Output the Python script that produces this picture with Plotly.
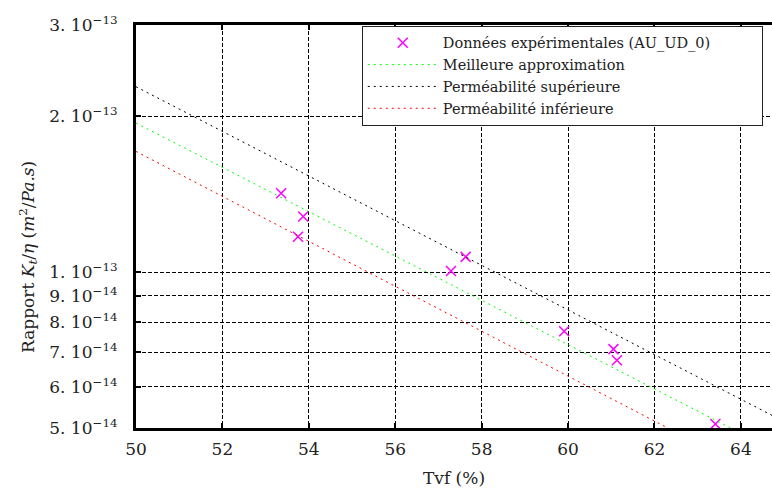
import math
import plotly.graph_objects as go

# Data
tvf_pts = [53.36, 53.87, 53.75, 57.29, 57.63, 59.91, 61.05, 61.13, 63.41]
ratio_pts = [1.42e-13, 1.28e-13, 1.17e-13, 1.005e-13, 1.07e-13, 7.69e-14, 7.1e-14, 6.76e-14, 5.09e-14]

line_x = [50.0, 64.72]
best_fit = [1.94e-13, 4.55e-14]
upper_perm = [2.28e-13, 5.29e-14]
lower_perm = [1.71e-13, 3.93e-14]

x_ticks = [50, 52, 54, 56, 58, 60, 62, 64]
y_ticks = [5e-14, 6e-14, 7e-14, 8e-14, 9e-14, 1e-13, 2e-13, 3e-13]
y_ticktext = ["5. 10<sup>−14</sup>", "6. 10<sup>−14</sup>", "7. 10<sup>−14</sup>",
              "8. 10<sup>−14</sup>", "9. 10<sup>−14</sup>", "1. 10<sup>−13</sup>",
              "2. 10<sup>−13</sup>", "3. 10<sup>−13</sup>"]

FONT = "DejaVu Serif"
PAD = "\u00a0" * 10

fig = go.Figure()
fig.add_trace(go.Scatter(x=tvf_pts, y=ratio_pts, mode="markers",
                         name="Données expérimentales (AU_UD_0)" + PAD,
                         marker=dict(symbol="x-thin", size=10, color="#ff00ff",
                                     line=dict(width=1.5, color="#ff00ff"))))
fig.add_trace(go.Scatter(x=line_x, y=best_fit, mode="lines", name="Meilleure approximation",
                         line=dict(color="#00ff00", width=1, dash="2px,4px")))
fig.add_trace(go.Scatter(x=line_x, y=upper_perm, mode="lines", name="Perméabilité supérieure",
                         line=dict(color="#000000", width=1, dash="2px,4px")))
fig.add_trace(go.Scatter(x=line_x, y=lower_perm, mode="lines", name="Perméabilité inférieure",
                         line=dict(color="#ff0000", width=1, dash="2px,4px")))

fig.update_layout(
    width=772, height=488,
    margin=dict(l=136, r=0, t=25, b=60, autoexpand=False),
    plot_bgcolor="white", paper_bgcolor="white",
    font=dict(family=FONT, size=15, color="#222"),
    showlegend=True,
    legend=dict(x=0.355, y=0.998, xanchor="left", yanchor="top",
                bgcolor="white", bordercolor="#222", borderwidth=1,
                font=dict(family=FONT, size=14.5), itemwidth=70,
                tracegroupgap=0),
)
fig.update_xaxes(range=[50, 64.72], tickvals=x_ticks, ticktext=[str(v) for v in x_ticks],
                 showgrid=True, gridcolor="black", gridwidth=1, griddash="4px,2px",
                 showline=True, linecolor="black", linewidth=3, mirror="ticks",
                 ticks="inside", ticklen=5, tickwidth=2, tickcolor="black",
                 zeroline=False, tickfont=dict(size=17), ticklabelstandoff=4,
                 automargin=False,
                 title=dict(text="Tvf (%)", font=dict(size=17), standoff=14))
fig.update_yaxes(type="log", range=[math.log10(5e-14), math.log10(3e-13)],
                 tickvals=y_ticks, ticktext=y_ticktext,
                 showgrid=True, gridcolor="black", gridwidth=1, griddash="4px,2px",
                 showline=True, linecolor="black", linewidth=3,
                 ticks="inside", ticklen=5, tickwidth=2, tickcolor="black",
                 zeroline=False, tickfont=dict(size=17), ticklabelstandoff=12,
                 automargin=False)
fig.add_annotation(text="Rapport <i>K<sub>t</sub></i>/<i>η</i> (<i>m</i><sup>2</sup>/<i>Pa.s</i>)",
                   xref="paper", yref="paper", x=-0.17, y=0.424, textangle=-90,
                   xanchor="center", yanchor="middle",
                   showarrow=False, font=dict(family=FONT, size=17))

fig.write_html("out.html", config={"displayModeBar": False},
               post_script="document.body.style.margin='0';")
